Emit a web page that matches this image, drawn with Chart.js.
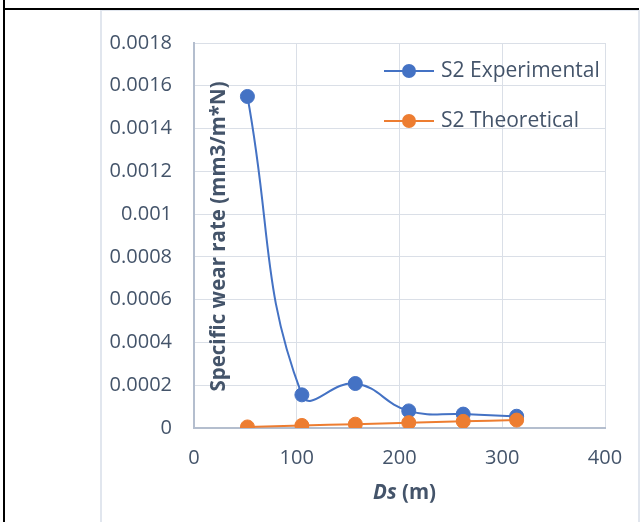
<!DOCTYPE html>
<html>
<head>
<meta charset="utf-8">
<title>Specific wear rate vs sliding distance</title>
<script src="https://cdn.jsdelivr.net/npm/chart.js@4.4.1/dist/chart.umd.min.js"></script>
<style>
    html, body { margin: 0; padding: 0; background: #fff; }
    #page { position: relative; width: 641px; height: 522px; overflow: hidden; }
    .rule { position: absolute; }
    #chart { position: absolute; left: 0; top: 0; }
</style>
</head>
<body>
<div id="page">
    <!-- table borders around the chart -->
    <div class="rule" style="left:3px;top:0;width:2px;height:522px;background:#000"></div>
    <div class="rule" style="left:3px;top:8px;width:636px;height:2px;background:#000"></div>
    <div class="rule" style="left:100px;top:10px;width:2px;height:512px;background:#e1e6ee"></div>
    <div class="rule" style="left:102px;top:10px;width:536px;height:1px;background:#e1e6ee"></div>
    <div class="rule" style="left:638px;top:10px;width:2px;height:512px;background:#e1e6ee"></div>
    <canvas id="chart" width="641" height="522"></canvas>
</div>
<script>
// sliding distance Ds (m)
const distances = [52, 105, 157, 209, 262, 314];
// specific wear rate (mm3/m*N)
const experimental = [0.00155, 0.000155, 0.000208, 0.00008, 0.000065, 0.000055];
const theoretical = [0.000005, 0.000012, 0.000018, 0.000025, 0.000031, 0.000037];

const seriesNames = ['S2 Experimental', 'S2 Theoretical'];
const seriesColors = ['#4472C4', '#ED7D31'];

const xTicks = [0, 100, 200, 300, 400];
const yTicks = [0, 0.0002, 0.0004, 0.0006, 0.0008, 0.001, 0.0012, 0.0014, 0.0016, 0.0018];
const yTickLabels = ['0', '0.0002', '0.0004', '0.0006', '0.0008', '0.001', '0.0012', '0.0014', '0.0016', '0.0018'];

const yTitle = 'Specific wear rate (mm3/m*N)';
const xTitleItalic = 'Ds';
const xTitleRest = ' (m)';

const textColor = '#44546A';
const fontFamily = '"Open Sans", "Noto Sans", sans-serif';

const toPoints = values => values.map((v, i) => ({ x: distances[i], y: v }));

// legend drawn inside the plot, like the Excel original
const insideLegend = {
    id: 'insideLegend',
    afterDatasetsDraw(chart) {
        const { ctx, chartArea } = chart;
        const x0 = chartArea.left + 190;
        chart.data.datasets.forEach((ds, i) => {
            const y = chartArea.top + 28 + i * 50;
            ctx.save();
            ctx.strokeStyle = ds.borderColor;
            ctx.lineWidth = 2;
            ctx.beginPath();
            ctx.moveTo(x0, y);
            ctx.lineTo(x0 + 50, y);
            ctx.stroke();
            ctx.fillStyle = ds.backgroundColor;
            ctx.beginPath();
            ctx.arc(x0 + 25, y, 7, 0, Math.PI * 2);
            ctx.fill();
            ctx.fillStyle = textColor;
            ctx.font = `21px ${fontFamily}`;
            ctx.textAlign = 'left';
            ctx.textBaseline = 'middle';
            ctx.fillText(ds.label, x0 + 57, y);
            ctx.restore();
        });
    }
};

// axis titles: y title sits inside the plot, x title has an italic part
const axisTitles = {
    id: 'axisTitles',
    afterDraw(chart) {
        const { ctx, chartArea } = chart;
        ctx.save();
        ctx.fillStyle = textColor;
        ctx.textBaseline = 'middle';

        ctx.save();
        ctx.translate(chartArea.left + 25, (chartArea.top + chartArea.bottom) / 2 + 1);
        ctx.rotate(-Math.PI / 2);
        ctx.textAlign = 'center';
        ctx.font = `bold 20.5px ${fontFamily}`;
        ctx.fillText(yTitle, 0, 0);
        ctx.restore();

        const italicFont = `italic bold 20.5px ${fontFamily}`;
        const boldFont = `bold 20.5px ${fontFamily}`;
        ctx.font = italicFont;
        const w1 = ctx.measureText(xTitleItalic).width;
        ctx.font = boldFont;
        const w2 = ctx.measureText(xTitleRest).width;
        let x = (chartArea.left + chartArea.right) / 2 + 5 - (w1 + w2) / 2;
        const y = chartArea.bottom + 65;
        ctx.textAlign = 'left';
        ctx.font = italicFont;
        ctx.fillText(xTitleItalic, x, y);
        ctx.font = boldFont;
        ctx.fillText(xTitleRest, x + w1, y);
        ctx.restore();
    }
};

const makeDataset = (values, i, order) => ({
    label: seriesNames[i],
    data: toPoints(values),
    borderColor: seriesColors[i],
    backgroundColor: seriesColors[i],
    pointBackgroundColor: seriesColors[i],
    pointBorderColor: seriesColors[i],
    pointRadius: 7,
    pointBorderWidth: 1,
    borderWidth: 2,
    tension: 0.45,
    order: order
});

new Chart(document.getElementById('chart'), {
    type: 'line',
    data: {
        datasets: [
            makeDataset(experimental, 0, 1),
            makeDataset(theoretical, 1, 0)
        ]
    },
    options: {
        responsive: false,
        animation: false,
        events: [],
        layout: { padding: { left: 101, right: 36, top: 43, bottom: 0 } },
        plugins: { legend: { display: false }, tooltip: { enabled: false } },
        scales: {
            x: {
                type: 'linear',
                min: 0,
                max: 400,
                afterFit: scale => { scale.height = 94; },
                afterBuildTicks: scale => { scale.ticks = xTicks.map(v => ({ value: v })); },
                grid: { color: '#DADFE7', lineWidth: 1, drawTicks: false },
                border: { color: '#B4BECE', width: 2 },
                ticks: {
                    padding: 18,
                    color: textColor,
                    font: { family: fontFamily, size: 20 },
                    callback: v => String(v)
                }
            },
            y: {
                min: 0,
                max: 0.0018,
                afterFit: scale => { scale.width = 93; },
                afterBuildTicks: scale => { scale.ticks = yTicks.map(v => ({ value: v })); },
                grid: { color: '#DADFE7', lineWidth: 1, drawTicks: false },
                border: { color: '#B4BECE', width: 2 },
                ticks: {
                    padding: 22,
                    color: textColor,
                    font: { family: fontFamily, size: 20 },
                    callback: (v, i) => yTickLabels[i]
                }
            }
        }
    },
    plugins: [insideLegend, axisTitles]
});
</script>
</body>
</html>
